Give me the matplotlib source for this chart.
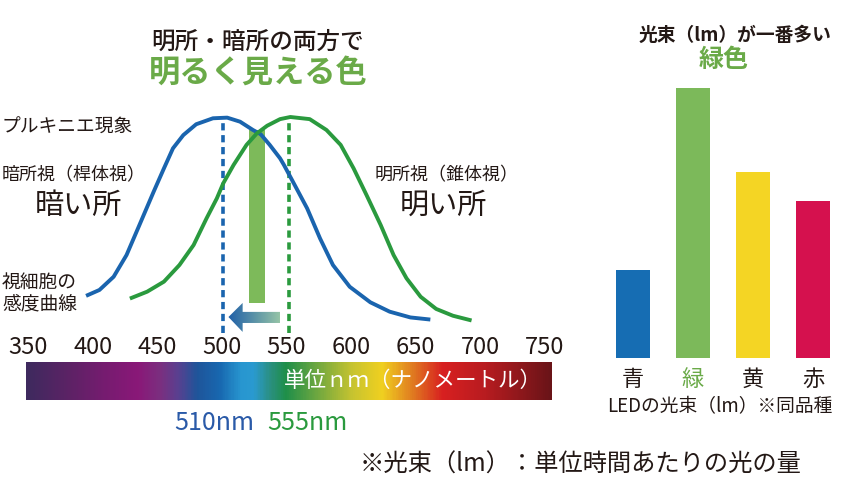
import numpy as np
import matplotlib.pyplot as plt
from matplotlib.colors import LinearSegmentedColormap, to_rgb
from matplotlib.patches import Polygon

plt.rcParams['font.family'] = ['Noto Sans CJK JP', 'DejaVu Sans']

# ---- データ ----
# 暗所視（桿体視）の感度曲線（読み取り値）
scot_wl = [396, 405, 416, 426, 436, 447, 455, 462, 470, 480, 493, 504,
           514, 524, 530, 537, 545, 548, 555, 566, 576, 586, 599, 615,
           630, 646, 660]
scot_sens = [0.164, 0.188, 0.250, 0.352, 0.493, 0.649, 0.759, 0.853,
             0.915, 0.966, 0.994, 0.997, 0.978, 0.939, 0.919, 0.869,
             0.806, 0.775, 0.696, 0.571, 0.430, 0.305, 0.203, 0.130,
             0.086, 0.059, 0.050]
# 明所視（錐体視）の感度曲線（読み取り値）
phot_wl = [430, 442, 455, 467, 478, 488, 496, 501, 509, 519, 527, 535,
           545, 553, 568, 581, 592, 602, 612, 623, 633, 643, 654, 666,
           679, 692]
phot_sens = [0.151, 0.180, 0.227, 0.305, 0.399, 0.524, 0.618, 0.689,
             0.775, 0.869, 0.923, 0.959, 0.990, 1.000, 0.990, 0.939,
             0.869, 0.759, 0.634, 0.493, 0.352, 0.243, 0.156, 0.099,
             0.067, 0.047]
scot_peak_nm = 501
phot_peak_nm = 552
cross_nm = 527

tick_nm = [350, 400, 450, 500, 550, 600, 650, 700, 750]

# スペクトルバーの色
spec_nm = [348, 382, 408, 434, 452, 465, 480, 498, 514, 524, 537, 549,
           574, 601, 624, 648, 671, 704, 755]
spec_colors = ['#3e2a5e', '#5e2266', '#761c70', '#8a1878', '#7a3080',
               '#5a4090', '#1f559a', '#1868b0', '#2896d0', '#2a9ad0',
               '#2a9080', '#1f8f4a', '#70a840', '#c8c430', '#f0d020',
               '#e07a20', '#d82020', '#b81c20', '#6a1418']

# LEDの光束（相対値）
led_labels = ['青', '緑', '黄', '赤']
led_flux = [32.6, 100, 68.9, 58.1]
led_colors = ['#166db3', '#7cb95a', '#f4d524', '#d5114e']
led_label_colors = ['#231815', '#6aaa48', '#231815', '#231815']

BLACK = '#231815'
BLUE = '#1a64ae'
GREEN = '#2a9a3e'
LGREEN = '#6aaa48'

W, H = 850, 500
fig = plt.figure(figsize=(8.5, 5), dpi=100)


def px_axes(x0, y0, x1, y1):
    """ピクセル座標（左上原点）で軸を作る"""
    return fig.add_axes([x0 / W, 1 - y1 / H, (x1 - x0) / W, (y1 - y0) / H])


def ftext(x, y, s, **kw):
    kw.setdefault('va', 'center')
    kw.setdefault('color', BLACK)
    return fig.text(x / W, 1 - y / H, s, **kw)


# 横軸：350nm が 28.5px、1.29px/nm
XLIM = (350 - 28.5 / 1.29, 350 + (560 - 28.5) / 1.29)
YLIM = ((330 - 345) / 213, (330 - 100) / 213)

# ---- 感度曲線 ----
ax = px_axes(0, 100, 560, 345)
ax.axis('off')

ax.bar(cross_nm, 0.94 - 0.127, bottom=0.127, width=12.5,
       color='#7dba5a', zorder=1)
ax.plot(scot_wl, scot_sens, color=BLUE, lw=2.8, zorder=3,
        solid_joinstyle='round')
ax.plot(phot_wl, phot_sens, color=GREEN, lw=2.8, zorder=3,
        solid_joinstyle='round')
ax.vlines(scot_peak_nm, -0.014, 0.98, color=BLUE, lw=2.6,
          linestyles=(0, (2, 1.3)), zorder=2)
ax.vlines(phot_peak_nm, -0.014, 0.98, color=GREEN, lw=2.6,
          linestyles=(0, (2, 1.3)), zorder=2)

# 矢印（明所視ピーク → 暗所視ピーク）
tip = scot_peak_nm + 4
head = tip + 11
tail = phot_peak_nm - 7
yc = 0.061
arrow = Polygon([(tip, yc), (head, 0.127), (head, 0.085), (tail, 0.085),
                 (tail, 0.033), (head, 0.033), (head, -0.009)],
                closed=True, facecolor='none', edgecolor='none')
ax.add_patch(arrow)
c0, c1 = np.array(to_rgb('#1f5fa8')), np.array(to_rgb('#95c4a6'))
t = np.linspace(0, 1, 200)[None, :, None]
grad = c0 + (c1 - c0) * t
im = ax.imshow(grad, extent=(tip, tail, -0.009, 0.127), aspect='auto',
               zorder=4, interpolation='bilinear')
im.set_clip_path(arrow)
ax.set_xlim(*XLIM)
ax.set_ylim(*YLIM)

# ---- スペクトルバー ----
axs = px_axes(0, 362, 560, 400)
pos = [(v - spec_nm[0]) / (spec_nm[-1] - spec_nm[0]) for v in spec_nm]
cmap = LinearSegmentedColormap.from_list('spec', list(zip(pos, spec_colors)))
axs.imshow(np.linspace(0, 1, 600)[None, :], cmap=cmap, aspect='auto',
           extent=(spec_nm[0], spec_nm[-1], 0, 1))
axs.set_xlim(*XLIM)
axs.set_ylim(0, 1)
for sp in axs.spines.values():
    sp.set_visible(False)
axs.set_yticks([])
axs.xaxis.tick_top()
axs.set_xticks(tick_nm)
axs.set_xticklabels([str(v) for v in tick_nm], fontsize=17, color=BLACK)
axs.tick_params(axis='x', length=0, pad=2)
axs.text(748, 0.5, '単位ｎｍ（ナノメートル）', color='white', fontsize=15.5,
         ha='right', va='center')

ftext(214, 423, '510nm', color='#2a5aa8', fontsize=18, ha='center')
ftext(307, 423, '555nm', color=GREEN, fontsize=18, ha='center')

# ---- 左側の注記 ----
ftext(258, 42, '明所・暗所の両方で', fontsize=17, ha='center',
      fontweight='medium')
ftext(258, 73, '明るく見える色', fontsize=22.5, ha='center', color=LGREEN,
      fontweight='bold')
ftext(2, 127, 'プルキニエ現象', fontsize=13.5)
ftext(2, 175, '暗所視（桿体視）', fontsize=13)
ftext(78, 206, '暗い所', fontsize=21, ha='center')
ftext(2, 282, '視細胞の', fontsize=13.5)
ftext(2, 304, '感度曲線', fontsize=13.5)
ftext(447, 175, '明所視（錐体視）', fontsize=13, ha='center')
ftext(443, 206, '明い所', fontsize=21, ha='center')

# ---- LEDの光束 ----
axb = px_axes(603, 80, 843, 358)
axb.bar(range(len(led_flux)), led_flux, width=0.567, color=led_colors)
axb.set_xlim(-0.5, len(led_flux) - 0.5)
axb.set_ylim(0, (358 - 80) / 270 * 100)
for sp in axb.spines.values():
    sp.set_visible(False)
axb.set_yticks([])
axb.set_xticks(range(len(led_labels)))
axb.set_xticklabels(led_labels, fontsize=16)
for lab, c in zip(axb.get_xticklabels(), led_label_colors):
    lab.set_color(c)
axb.tick_params(axis='x', length=0, pad=7)

ftext(735, 35, '光束（lm）が一番多い', fontsize=13.5, ha='center',
      fontweight='bold')
ftext(724, 60, '緑色', fontsize=18, ha='center', color=LGREEN,
      fontweight='bold')
ftext(720, 407, 'LEDの光束（lm）※同品種', fontsize=13.5, ha='center')

ftext(581, 465, '※光束（lm）：単位時間あたりの光の量', fontsize=17.5,
      ha='center')

fig.savefig('out.png', dpi=100)
